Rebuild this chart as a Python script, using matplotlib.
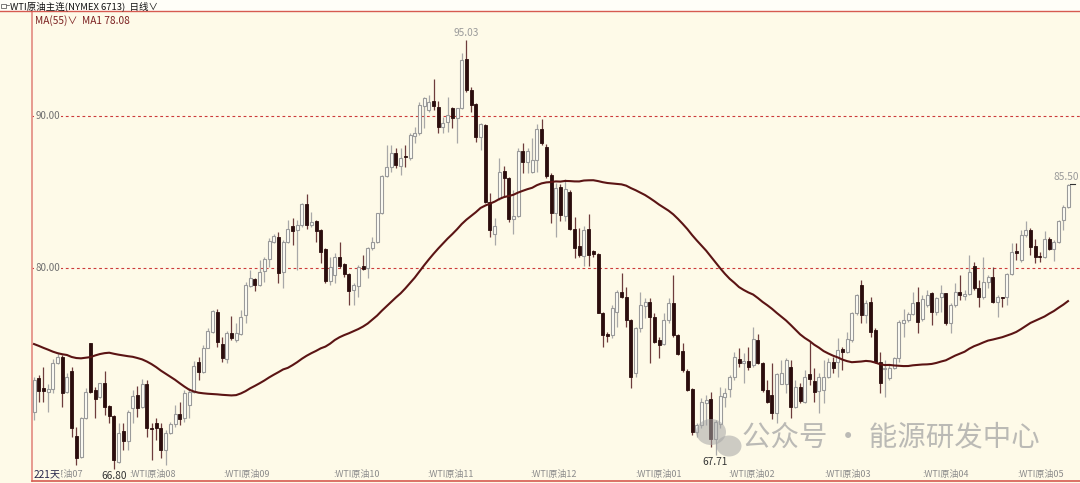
import numpy as np
import matplotlib
matplotlib.use("Agg")
import matplotlib.pyplot as plt
from matplotlib.patches import Ellipse, Rectangle
from matplotlib.lines import Line2D

# WTI原油主连 日线, 221 sessions
opens = [
    70.55, 72.74, 72.13, 71.86, 72.02, 73.73, 74.17, 71.82, 73.25, 68.95,
    67.54, 70.11, 75.04, 71.97, 71.49, 72.41, 70.92, 70.26, 67.26, 69.30,
    68.64, 70.77, 71.64, 70.83, 72.37, 69.50, 69.78, 69.45, 68.03, 69.12,
    69.74, 70.40, 70.11, 71.00, 71.84, 73.84, 73.14, 74.76, 75.81, 77.13,
    75.00, 73.99, 75.74, 75.26, 75.66, 76.91, 78.82, 79.26, 78.88, 79.82,
    80.61, 81.69, 82.02, 79.76, 81.71, 82.76, 82.50, 82.83, 84.21, 82.83,
    83.09, 82.50, 81.23, 79.17, 79.54, 80.75, 80.24, 79.61, 78.55, 78.82,
    80.13, 79.98, 81.30, 81.69, 83.60, 86.08, 86.67, 87.55, 86.73, 87.37,
    87.22, 88.68, 88.86, 90.66, 90.40, 90.99, 90.57, 89.25, 89.62, 90.50,
    89.85, 90.50, 93.73, 91.71, 90.79, 88.60, 89.41, 84.36, 82.24, 84.58,
    86.41, 85.90, 83.20, 83.42, 87.72, 86.99, 86.34, 87.11, 89.12, 87.98,
    86.12, 83.60, 85.35, 83.42, 85.02, 82.55, 81.45, 80.79, 82.57, 81.14,
    80.92, 77.06, 75.66, 75.59, 77.13, 78.44, 78.11, 76.58, 73.07, 76.03,
    77.52, 77.74, 76.80, 75.26, 75.00, 76.58, 77.68, 75.59, 74.54, 73.25,
    72.04, 69.23, 69.67, 71.14, 71.36, 68.73, 69.74, 71.54, 72.02, 72.81,
    73.99, 73.73, 73.88, 73.62, 75.26, 73.77, 71.97, 71.65, 70.44, 72.37,
    72.37, 73.47, 70.83, 72.19, 71.21, 73.03, 72.59, 71.93, 71.97, 72.81,
    73.84, 73.84, 74.65, 74.50, 75.26, 77.06, 78.88, 76.91, 77.79, 75.92,
    73.84, 73.36, 72.74, 73.40, 74.06, 76.40, 76.58, 76.97, 77.75, 76.62,
    77.57, 78.33, 77.13, 78.11, 78.33, 76.40, 77.57, 78.44, 78.16, 78.29,
    80.13, 78.66, 78.07, 79.10, 79.43, 77.79, 78.07, 78.07, 79.60, 81.12,
    80.53, 82.17, 82.50, 81.45, 80.82, 80.75, 81.91, 81.23, 81.69, 83.16,
    83.99,
]
highs = [
    72.85, 72.96, 73.51, 72.37, 73.99, 74.43, 74.28, 73.07, 73.46, 69.56,
    70.22, 72.08, 75.09, 72.15, 72.46, 73.25, 70.99, 70.33, 69.78, 69.78,
    70.66, 71.97, 72.26, 72.68, 72.63, 69.78, 70.11, 69.78, 69.34, 69.89,
    70.99, 71.21, 71.97, 72.08, 73.88, 74.17, 74.93, 76.07, 77.24, 77.28,
    75.48, 75.88, 76.84, 76.36, 77.24, 79.10, 79.87, 79.32, 80.53, 80.75,
    81.95, 82.24, 82.39, 81.84, 83.16, 83.27, 83.16, 84.30, 84.87, 83.71,
    83.16, 82.55, 81.30, 80.75, 80.97, 81.73, 80.31, 79.65, 78.99, 80.20,
    80.86, 81.40, 82.02, 83.64, 86.12, 88.09, 88.09, 87.87, 87.87, 88.09,
    88.86, 89.30, 90.94, 91.27, 91.38, 92.41, 90.99, 89.95, 91.27, 90.57,
    90.50, 94.17, 95.03, 91.93, 90.83, 89.52, 89.45, 84.91, 83.27, 87.21,
    86.71, 86.01, 85.13, 87.87, 88.20, 87.87, 88.53, 89.47, 89.78, 88.16,
    86.23, 85.57, 85.52, 85.83, 85.13, 83.38, 82.61, 82.76, 83.55, 81.19,
    81.01, 77.13, 75.81, 77.57, 78.55, 79.69, 78.77, 76.62, 76.14, 78.44,
    78.00, 78.00, 77.02, 75.48, 77.02, 78.00, 79.54, 75.66, 75.04, 73.33,
    72.08, 69.78, 71.43, 71.65, 71.86, 70.00, 72.19, 72.08, 72.96, 74.50,
    74.71, 74.39, 74.82, 76.14, 75.66, 73.84, 72.63, 73.73, 73.11, 73.95,
    74.06, 73.95, 72.63, 72.41, 73.29, 75.15, 73.40, 73.07, 73.95, 74.06,
    74.17, 75.37, 74.78, 75.81, 77.13, 78.29, 79.21, 77.90, 78.11, 76.03,
    74.50, 73.95, 73.62, 74.17, 76.58, 77.28, 77.13, 78.44, 78.77, 78.22,
    78.55, 78.44, 78.11, 78.88, 78.38, 77.68, 78.99, 79.54, 78.55, 80.86,
    80.42, 79.21, 80.75, 79.54, 80.04, 78.22, 78.11, 79.69, 81.62, 81.62,
    82.50, 83.12, 82.61, 81.88, 81.07, 82.46, 82.06, 81.84, 83.16, 84.14,
    85.50,
]
lows = [
    70.00, 71.21, 71.21, 70.55, 71.75, 73.68, 70.88, 71.75, 68.90, 67.04,
    67.48, 70.04, 71.75, 70.11, 71.42, 70.33, 69.78, 66.80, 67.15, 68.03,
    68.03, 69.78, 70.22, 70.77, 68.90, 67.37, 68.68, 67.48, 67.04, 69.08,
    69.56, 69.67, 69.89, 70.11, 71.75, 72.63, 73.07, 74.71, 75.74, 74.82,
    73.84, 73.73, 75.26, 75.15, 75.59, 76.36, 78.77, 78.51, 78.82, 79.10,
    80.09, 81.62, 78.99, 78.66, 81.62, 81.51, 79.87, 82.72, 82.55, 82.72,
    81.73, 80.35, 78.99, 78.88, 78.99, 79.98, 79.43, 77.57, 77.57, 78.11,
    79.87, 79.32, 81.19, 81.62, 83.55, 86.01, 86.34, 86.56, 86.12, 86.67,
    87.11, 88.20, 88.75, 89.19, 90.29, 90.40, 88.86, 88.86, 88.97, 89.19,
    88.20, 90.44, 91.60, 90.29, 88.31, 87.76, 84.25, 82.06, 81.51, 84.47,
    84.69, 83.05, 82.24, 83.38, 86.23, 86.23, 86.23, 86.34, 88.09, 85.90,
    82.94, 82.02, 83.12, 83.12, 82.50, 80.64, 80.75, 80.13, 80.13, 80.70,
    77.02, 74.82, 75.15, 75.37, 76.14, 78.00, 76.14, 72.08, 72.85, 75.81,
    76.69, 73.77, 75.04, 74.06, 74.93, 76.36, 75.48, 74.28, 73.18, 71.91,
    69.01, 68.90, 69.45, 69.67, 68.25, 67.71, 69.45, 70.88, 71.54, 72.63,
    73.51, 72.41, 73.29, 73.51, 73.69, 71.86, 71.14, 70.04, 69.78, 72.37,
    71.75, 70.11, 70.77, 71.14, 71.10, 72.30, 71.21, 70.44, 71.10, 72.74,
    73.07, 72.85, 73.29, 74.39, 75.15, 76.91, 76.36, 76.36, 75.48, 73.73,
    71.75, 71.54, 72.63, 73.33, 73.84, 75.48, 76.47, 76.91, 75.70, 76.54,
    77.46, 76.25, 76.91, 77.13, 76.25, 75.74, 77.46, 77.90, 77.90, 78.22,
    78.55, 77.46, 77.94, 78.66, 77.68, 76.80, 77.46, 77.57, 79.54, 80.53,
    80.42, 82.06, 80.86, 80.35, 80.42, 80.64, 81.19, 80.48, 81.62, 82.50,
    83.93,
]
closes = [
    72.63, 71.91, 71.91, 72.06, 73.77, 74.17, 71.75, 72.81, 69.45, 67.48,
    70.11, 71.82, 71.82, 71.36, 72.41, 70.88, 70.26, 67.37, 69.17, 68.64,
    70.50, 71.60, 70.77, 72.35, 69.45, 69.39, 69.45, 68.03, 69.12, 69.71,
    70.40, 70.04, 71.75, 71.84, 73.57, 73.14, 74.76, 75.85, 77.19, 75.15,
    74.10, 75.70, 75.37, 75.70, 76.80, 78.88, 79.32, 78.88, 79.76, 80.61,
    81.78, 82.11, 79.69, 81.71, 82.57, 82.43, 82.83, 84.21, 82.83, 83.05,
    82.43, 81.03, 79.17, 80.04, 80.70, 80.13, 79.58, 78.51, 78.88, 80.04,
    79.91, 81.30, 81.69, 83.60, 86.08, 86.67, 87.55, 86.78, 87.22, 87.28,
    88.75, 88.90, 90.72, 91.16, 90.94, 90.66, 89.25, 89.56, 90.07, 89.85,
    90.50, 93.68, 91.71, 90.72, 88.60, 89.45, 84.36, 82.50, 82.76, 86.34,
    85.90, 83.20, 83.42, 87.72, 86.99, 87.72, 87.11, 89.12, 88.25, 86.05,
    83.64, 85.24, 83.49, 85.18, 82.55, 81.30, 80.86, 82.50, 80.86, 80.92,
    77.06, 75.59, 75.53, 77.35, 78.44, 78.11, 76.58, 72.85, 76.03, 77.57,
    77.74, 76.75, 75.15, 74.93, 76.58, 77.68, 75.59, 74.32, 73.29, 71.97,
    69.23, 69.67, 71.21, 71.32, 68.73, 69.85, 71.58, 71.75, 72.81, 74.12,
    73.73, 73.88, 73.47, 75.33, 73.77, 71.97, 71.21, 70.44, 73.03, 73.11,
    73.95, 70.83, 72.15, 71.27, 72.85, 72.70, 71.86, 72.85, 72.81, 73.84,
    73.40, 74.60, 74.50, 75.30, 77.06, 78.22, 76.91, 77.72, 75.81, 73.84,
    72.41, 73.40, 73.40, 74.06, 76.47, 76.58, 76.97, 77.72, 76.47, 77.94,
    78.22, 77.13, 78.00, 78.33, 76.40, 77.57, 78.44, 78.22, 78.29, 79.76,
    78.66, 78.11, 79.10, 79.43, 77.79, 78.11, 78.00, 79.60, 81.07, 80.97,
    82.17, 82.50, 81.40, 80.75, 80.75, 81.91, 81.23, 81.69, 83.12, 83.99,
    85.46,
]
# MA(55) over the first 54 sessions (needs earlier data)
ma_head = [
    75.00, 74.88, 74.75, 74.63, 74.50, 74.40, 74.33, 74.28, 74.15, 74.08,
    74.06, 74.10, 74.14, 74.25, 74.34, 74.40, 74.43, 74.36, 74.30, 74.25,
    74.20, 74.16, 74.08, 73.99, 73.85, 73.68, 73.48, 73.25, 73.05, 72.85,
    72.65, 72.42, 72.20, 72.00, 71.88, 71.80, 71.76, 71.73, 71.71, 71.69,
    71.66, 71.64, 71.62, 71.64, 71.75, 71.90, 72.09, 72.25, 72.42, 72.60,
    72.80, 72.98, 73.15, 73.33,
]
# main-contract roll markers (session index) and their labels
roll_pos = [0.4, 20.2, 40.3, 63.6, 83.6, 105.7, 128.0, 147.7, 168.1, 189.0, 209.3]
roll_labels = ["WTI原油07", "WTI原油08", "WTI原油09", "WTI原油10", "WTI原油11",
               "WTI原油12", "WTI原油01", "WTI原油02", "WTI原油03", "WTI原油04",
               "WTI原油05"]

BG = "#FEFAE8"
UP_EDGE = "#9A9A9A"
DOWN = "#2B0D0D"
RED = "#D65A50"

plt.rcParams["font.family"] = ["Noto Sans CJK SC", "DejaVu Sans"]

o = np.array(opens)
h = np.array(highs)
l = np.array(lows)
c = np.array(closes)
n = len(c)
x = np.arange(n)

ma = np.full(n, np.nan)
ma[:54] = ma_head
for i in range(54, n):
    ma[i] = c[i - 54:i + 1].mean()

W, H = 1080, 483
fig = plt.figure(figsize=(W / 100, H / 100), dpi=100)
fig.patch.set_facecolor(BG)
ax = fig.add_axes([32 / W, 2 / H, (W - 32) / W, 470 / H])
ax.set_facecolor(BG)
ax.set_xlim(-0.43, 222.55)
ax.set_ylim(65.99, 96.91)
ax.set_xticks([])
ax.set_yticks([])
for s in ("top", "right"):
    ax.spines[s].set_visible(False)
ax.spines["left"].set_color("#E38A80")
ax.spines["left"].set_linewidth(1.2)
ax.spines["bottom"].set_color(RED)
ax.spines["bottom"].set_linewidth(1.2)


def px(xp, yp):
    return xp / 100, (H - yp) / 100


# header strip
fig.patches.append(Rectangle(px(0, 11), W / 100, 0.11, transform=fig.dpi_scale_trans,
                             facecolor="#FFFEF8", edgecolor="none", zorder=0))
fig.lines.append(Line2D([0, W / 100], [(H - 11) / 100] * 2, transform=fig.dpi_scale_trans,
                        color=RED, lw=1.0))
fig.patches.append(Rectangle(px(1, 8), 0.05, 0.045, transform=fig.dpi_scale_trans,
                             facecolor="none", edgecolor="#666", lw=0.6))
fig.lines.append(Line2D([0.06, 0.085], [(H - 5.5) / 100] * 2, transform=fig.dpi_scale_trans,
                        color="#666", lw=0.6))
fig.text(*px(10, 6), "WTI原油主连(NYMEX 6713)  日线∨", transform=fig.dpi_scale_trans,
         fontsize=6.8, color="#111", va="center", ha="left")
fig.text(*px(35, 21), "MA(55)∨  MA1 78.08", transform=fig.dpi_scale_trans,
         fontsize=7.3, color="#7B2020", va="center", ha="left")

# grid lines with price labels
for lvl in (90, 80):
    ax.axhline(lvl, color="#CC3B3B", lw=0.8, ls=(0, (2.5, 2.5)), zorder=1)
    ax.text(0.003, lvl, f"{lvl:.2f}", transform=ax.get_yaxis_transform(),
            fontsize=7, color="#707070", va="center", ha="left", zorder=2,
            bbox=dict(boxstyle="square,pad=0.15", fc=BG, ec="none"))

# candles
up = c >= o
ax.vlines(x[up], l[up], h[up], color="#A8A8A8", lw=0.9, zorder=2)
ax.vlines(x[~up], l[~up], h[~up], color="#6E3C3C", lw=0.9, zorder=2)
body_lo = np.minimum(o, c)
body_h = np.maximum(np.abs(c - o), 0.04)
ax.bar(x[up], body_h[up], bottom=body_lo[up], width=0.64, color="#FFFEF6",
       edgecolor=UP_EDGE, linewidth=0.8, zorder=3)
ax.bar(x[~up], body_h[~up], bottom=body_lo[~up], width=0.64, color=DOWN,
       edgecolor=DOWN, linewidth=0.6, zorder=3)

ax.plot(x, ma, color="#5B1414", lw=1.5, zorder=4)

# extreme labels
imax = int(np.argmax(h))
imin = int(np.argmin(l))
ax.annotate(f"{h[imax]:.2f}", (imax, h[imax]), xytext=(0, 5), textcoords="offset points",
            ha="center", va="center", fontsize=7.3, color="#9A9A9A")
ax.annotate(f"{l[imin]:.2f}", (imin, l[imin]), xytext=(0, -5.5), textcoords="offset points",
            ha="center", va="center", fontsize=7.3, color="#333")
iloc = 145
ax.annotate(f"{l[iloc]:.2f}", (iloc, l[iloc]), xytext=(0, -5), textcoords="offset points",
            ha="center", va="center", fontsize=7.3, color="#333")
ax.annotate(f"{h[-1]:.2f}", (n - 1, h[-1]), xytext=(-1, 5), textcoords="offset points",
            ha="center", va="center", fontsize=7.3, color="#9A9A9A")
ax.plot([n - 0.6, n + 0.4], [h[-1], h[-1]], color="#333", lw=0.8, zorder=4)

# contract roll labels along the bottom; the session count sits over the first one
for pos, lab in zip(roll_pos, roll_labels):
    ax.text(pos, 0.013, ":" + lab, transform=ax.get_xaxis_transform(),
            fontsize=6.5, color="#8C8C8C", va="center", ha="left", zorder=2)
ax.text(-0.2, 0.015, f"{n}天", transform=ax.get_xaxis_transform(),
        fontsize=7.3, color="#26264A", va="center", ha="left", zorder=6,
        bbox=dict(boxstyle="square,pad=0.05", fc=BG, ec="none"))

# watermark
wm = "#A5A5A5"
fig.patches.append(Ellipse(px(711, 432), 0.30, 0.26, transform=fig.dpi_scale_trans,
                           facecolor=wm, edgecolor="none", alpha=0.55))
fig.patches.append(Ellipse(px(729, 446), 0.25, 0.21, transform=fig.dpi_scale_trans,
                           facecolor=wm, edgecolor="none", alpha=0.55))
fig.text(*px(742, 437), "公众号 · 能源研发中心", transform=fig.dpi_scale_trans,
         fontsize=20.5, color=wm, alpha=0.75, va="center", ha="left")

fig.savefig("out.png", dpi=100, facecolor=BG)
